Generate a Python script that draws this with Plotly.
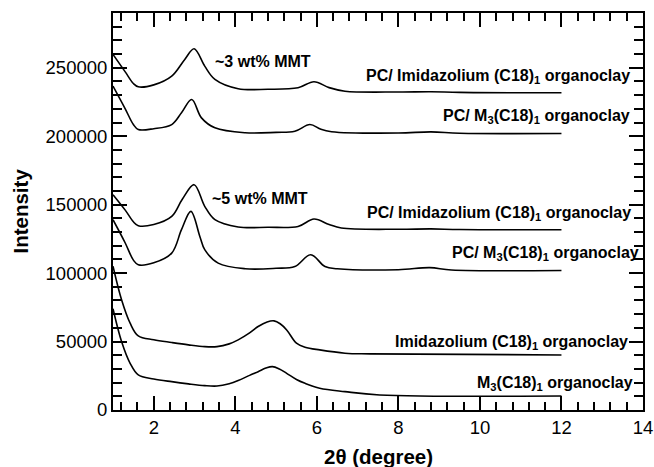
import plotly.graph_objects as go

# --- data ---
x_pc_imid_3 = [1.0, 1.3, 1.5, 1.62, 2.0, 2.44, 2.76, 2.99, 3.25, 3.5, 4.07, 4.8, 5.54, 5.93, 6.3, 6.69, 8.0, 8.8, 9.5, 12]
y_pc_imid_3 = [259800, 247000, 238500, 236100, 237500, 243900, 256100, 263900, 251200, 241500, 234700, 234300, 235400, 239800, 235500, 232900, 232300, 232500, 232000, 231700]

x_pc_m3_3 = [1.0, 1.3, 1.5, 1.62, 2.0, 2.44, 2.68, 2.93, 3.17, 3.5, 4.24, 5.0, 5.46, 5.83, 6.1, 6.36, 8.0, 8.8, 9.5, 12]
y_pc_m3_3 = [236600, 220000, 208500, 204900, 205500, 208500, 217100, 226800, 213400, 206100, 202500, 202800, 203600, 208500, 205000, 203300, 202300, 203200, 202200, 202000]

x_pc_imid_5 = [1.0, 1.3, 1.5, 1.62, 2.0, 2.44, 2.7, 2.99, 3.25, 3.5, 4.07, 4.8, 5.54, 5.93, 6.3, 6.6, 8.0, 8.8, 9.5, 12]
y_pc_imid_5 = [157300, 146000, 137500, 134600, 135500, 141400, 154000, 164600, 148800, 139000, 133700, 133500, 134100, 139500, 135500, 132900, 132000, 132300, 131800, 131700]

x_pc_m3_5 = [1.0, 1.3, 1.5, 1.62, 2.0, 2.44, 2.68, 2.91, 3.13, 3.25, 3.58, 4.24, 5.0, 5.46, 5.85, 6.2, 6.5, 8.0, 8.77, 9.3, 12]
y_pc_m3_5 = [139000, 122000, 109500, 106100, 107500, 114600, 131700, 145100, 126800, 117100, 107300, 103200, 103500, 104800, 113400, 104800, 103200, 102500, 104000, 102300, 101900]

x_imid = [1.0, 1.21, 1.42, 1.62, 2.0, 2.44, 2.85, 3.25, 3.55, 3.85, 4.07, 4.35, 4.56, 4.78, 4.95, 5.1, 5.26, 5.5, 5.71, 6.07, 6.69, 7.3, 12]
y_imid = [105000, 80500, 63400, 54100, 51300, 49300, 47600, 46300, 46300, 48300, 51200, 56300, 61000, 64300, 65100, 63000, 58500, 48800, 45900, 43900, 41500, 41000, 40200]

x_m3 = [1.0, 1.21, 1.42, 1.62, 2.0, 2.44, 2.85, 3.25, 3.55, 3.85, 4.07, 4.35, 4.56, 4.75, 4.91, 5.08, 5.26, 5.5, 5.71, 6.07, 6.69, 7.54, 12]
y_m3 = [74000, 50000, 34100, 25600, 22700, 20700, 19100, 17800, 17500, 19200, 21500, 25300, 28000, 30600, 31700, 30000, 26800, 22300, 19500, 15900, 13400, 11000, 10200]

series = [
    (x_pc_imid_3, y_pc_imid_3),
    (x_pc_m3_3, y_pc_m3_3),
    (x_pc_imid_5, y_pc_imid_5),
    (x_pc_m3_5, y_pc_m3_5),
    (x_imid, y_imid),
    (x_m3, y_m3),
]

curve_labels = [
    "PC/ Imidazolium (C18)<sub>1</sub> organoclay",
    "PC/ M<sub>3</sub>(C18)<sub>1</sub> organoclay",
    "PC/ Imidazolium (C18)<sub>1</sub> organoclay",
    "PC/ M<sub>3</sub>(C18)<sub>1</sub> organoclay",
    "Imidazolium (C18)<sub>1</sub> organoclay",
    "M<sub>3</sub>(C18)<sub>1</sub> organoclay",
]
label_x = [13.73, 13.73, 13.75, 13.95, 13.68, 13.80]
label_y = [243400, 214600, 143900, 114100, 49300, 19500]

mmt_labels = ["~3 wt% MMT", "~5 wt% MMT"]
mmt_x = [3.45, 3.38]
mmt_y = [254600, 154200]

FONT = "Liberation Sans, Arial, sans-serif"
L, R, T, B = 113, 11, 13, 57
PW = 654 - L - R

fig = go.Figure()
for xs, ys in series:
    fig.add_trace(go.Scatter(x=xs, y=ys, mode="lines",
                             line=dict(color="black", width=1.6, shape="spline", smoothing=1.0),
                             showlegend=False, hoverinfo="skip"))

for t, x, y in zip(curve_labels, label_x, label_y):
    fig.add_annotation(x=x, y=y, text="<b>" + t + "</b>", showarrow=False,
                       xanchor="right", yanchor="middle",
                       font=dict(family=FONT, size=16, color="black"))
for t, x, y in zip(mmt_labels, mmt_x, mmt_y):
    fig.add_annotation(x=x, y=y, text="<b>" + t + "</b>", showarrow=False,
                       xanchor="left", yanchor="middle",
                       font=dict(family=FONT, size=16, color="black"))

fig.add_annotation(xref="paper", yref="paper", x=0.5, y=-0.118,
                   text="<b>2θ (degree)</b>", showarrow=False, xanchor="center", yanchor="middle",
                   font=dict(family=FONT, size=20.5, color="black"))
fig.add_annotation(xref="paper", yref="paper", x=(20 - L) / PW, y=0.5, textangle=-90,
                   text="<b>Intensity</b>", showarrow=False, xanchor="center", yanchor="middle",
                   font=dict(family=FONT, size=20.5, color="black"))

fig.update_layout(
    width=654, height=467,
    margin=dict(l=L, r=R, t=T, b=B, autoexpand=False),
    paper_bgcolor="white", plot_bgcolor="white",
    font=dict(family=FONT, color="black"),
)
fig.update_xaxes(
    range=[1, 14], tick0=0, dtick=2, ticks="inside", ticklen=14, tickwidth=1.5,
    tickcolor="black", showline=True, linecolor="black", linewidth=2, mirror="allticks",
    showgrid=False, zeroline=False, automargin=False,
    tickfont=dict(family=FONT, size=18.5, color="black"),
    minor=dict(dtick=0.4, tick0=0, ticks="inside", ticklen=8, tickwidth=1.5, tickcolor="black", showgrid=False),
)
fig.update_yaxes(
    range=[0, 290000], tick0=0, dtick=50000, tickformat="d", ticks="inside", ticklen=14,
    tickwidth=1.5, tickcolor="black", showline=True, linecolor="black", linewidth=2,
    mirror="allticks", showgrid=False, zeroline=False, automargin=False,
    tickfont=dict(family=FONT, size=18.5, color="black"),
    minor=dict(dtick=10000, tick0=0, ticks="inside", ticklen=9, tickwidth=1.5, tickcolor="black", showgrid=False),
)

fig.write_html("out.html")
